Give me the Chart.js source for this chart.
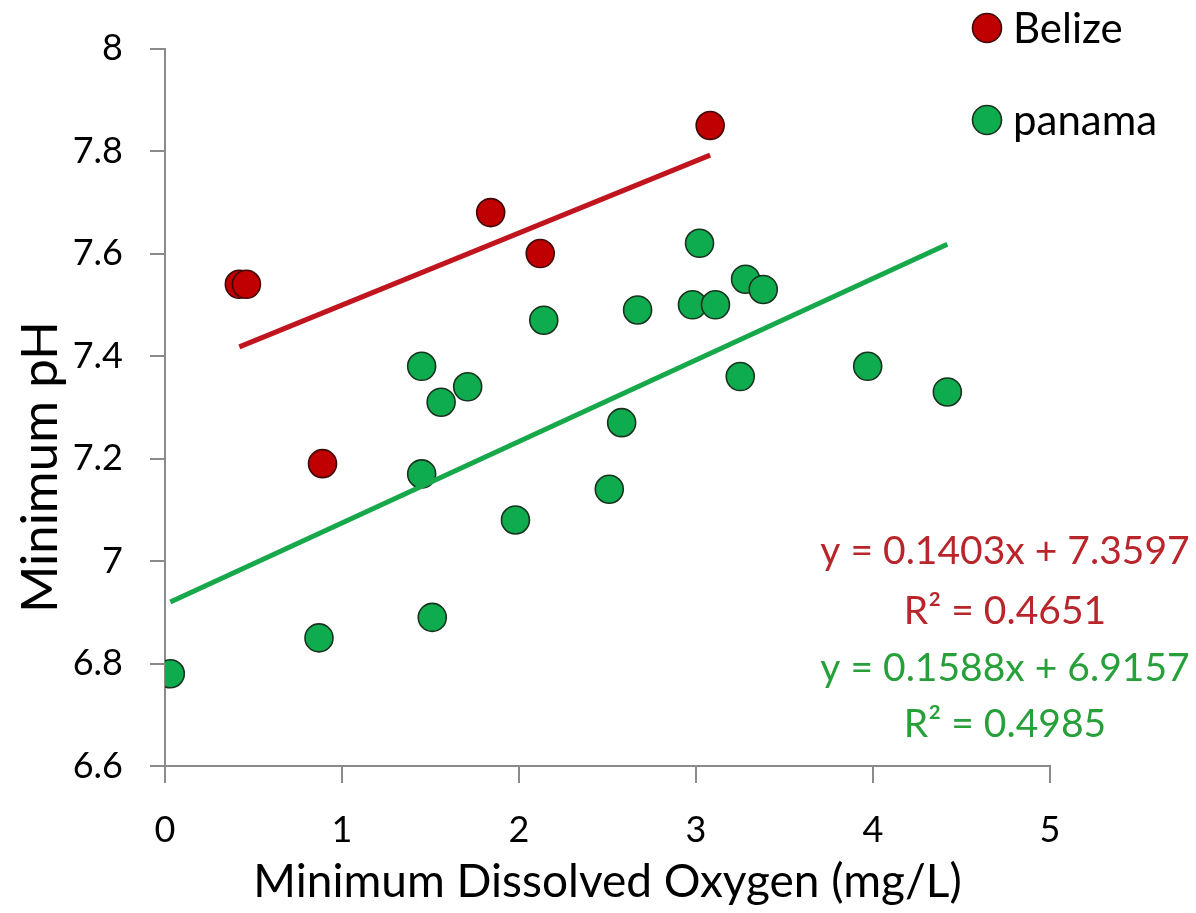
<!DOCTYPE html>
<html>
<head>
<meta charset="utf-8">
<script src="https://cdn.jsdelivr.net/npm/chart.js@4.4.1/dist/chart.umd.min.js"></script>
<style>
    html, body { margin: 0; padding: 0; background: #fff; }
    #wrap { width: 1196px; height: 913px; }
</style>
</head>
<body>
<div id="wrap"><canvas id="phChart" width="1196" height="913"></canvas></div>
<script>
// values
const belizeDO = [0.42, 0.46, 0.89, 1.84, 2.12, 3.08];
const belizePH = [7.54, 7.54, 7.19, 7.68, 7.60, 7.85];

const panamaDO = [0.03, 0.87, 1.51, 1.45, 1.45, 1.56, 1.71, 1.98, 2.14, 2.51, 2.58, 2.67,
                  2.98, 3.02, 3.11, 3.25, 3.28, 3.38, 3.97, 4.42];
const panamaPH = [6.78, 6.85, 6.89, 7.17, 7.38, 7.31, 7.34, 7.08, 7.47, 7.14, 7.27, 7.49,
                  7.50, 7.62, 7.50, 7.36, 7.55, 7.53, 7.38, 7.33];

// trendline end points
const belizeTrendX = [0.42, 3.08];
const belizeTrendY = [7.418, 7.792];
const panamaTrendX = [0.03, 4.42];
const panamaTrendY = [6.920, 7.618];

const equations = [
    { text: "y = 0.1403x + 7.3597", color: "#b8262c" },
    { text: "R\u00b2 = 0.4651", color: "#b8262c" },
    { text: "y = 0.1588x + 6.9157", color: "#27a03a" },
    { text: "R\u00b2 = 0.4985", color: "#27a03a" }
];

const FONT = "Lato, 'Open Sans', sans-serif";
const RED = "#c00000", RED_EDGE = "#3f0808";
const GREEN = "#0fab4f", GREEN_EDGE = "#18331d";

function toPoints(xs, ys) {
    return xs.map((x, i) => ({ x: x, y: ys[i] }));
}

const annotations = {
    id: "annotations",
    afterDraw(chart) {
        const ctx = chart.ctx;
        const area = chart.chartArea;
        ctx.save();

        // axis titles
        ctx.fillStyle = "#000";
        ctx.textAlign = "center";
        ctx.textBaseline = "middle";
        ctx.font = "46px " + FONT;
        ctx.fillText("Minimum Dissolved Oxygen (mg/L)", (area.left + area.right) / 2, 882);

        ctx.save();
        ctx.translate(41, 467);
        ctx.rotate(-Math.PI / 2);
        ctx.font = "51px " + FONT;
        ctx.fillText("Minimum pH", 0, 0);
        ctx.restore();

        // legend
        const items = [
            { label: "Belize", fill: RED, edge: RED_EDGE, y: 28 },
            { label: "panama", fill: GREEN, edge: GREEN_EDGE, y: 120 }
        ];
        ctx.font = "42px " + FONT;
        ctx.textAlign = "left";
        ctx.textBaseline = "middle";
        for (const it of items) {
            ctx.beginPath();
            ctx.arc(987, it.y, 14.5, 0, Math.PI * 2);
            ctx.fillStyle = it.fill;
            ctx.fill();
            ctx.lineWidth = 1.6;
            ctx.strokeStyle = it.edge;
            ctx.stroke();
            ctx.fillStyle = "#000";
            ctx.fillText(it.label, 1013, it.y + 1);
        }

        // trendline equations
        ctx.font = "39px " + FONT;
        ctx.textAlign = "center";
        ctx.textBaseline = "alphabetic";
        const baselines = [564, 624, 681, 737];
        equations.forEach((eq, i) => {
            ctx.fillStyle = eq.color;
            ctx.fillText(eq.text, 1005, baselines[i]);
        });

        ctx.restore();
    }
};

new Chart(document.getElementById("phChart"), {
    type: "scatter",
    data: {
        datasets: [
            {
                type: "line",
                label: "Belize trend",
                data: toPoints(belizeTrendX, belizeTrendY),
                borderColor: "#c0141e",
                borderWidth: 5,
                pointRadius: 0,
                fill: false,
                order: 0
            },
            {
                type: "line",
                label: "panama trend",
                data: toPoints(panamaTrendX, panamaTrendY),
                borderColor: "#16a84b",
                borderWidth: 5,
                pointRadius: 0,
                fill: false,
                order: 0
            },
            {
                label: "Belize",
                data: toPoints(belizeDO, belizePH),
                backgroundColor: RED,
                borderColor: RED_EDGE,
                borderWidth: 1.6,
                pointRadius: 14,
                order: 1
            },
            {
                label: "panama",
                data: toPoints(panamaDO, panamaPH),
                backgroundColor: GREEN,
                borderColor: GREEN_EDGE,
                borderWidth: 1.6,
                pointRadius: 14,
                order: 1
            }
        ]
    },
    options: {
        responsive: false,
        animation: false,
        layout: { padding: { top: 45, right: 146, bottom: 0, left: 0 } },
        plugins: {
            legend: { display: false },
            tooltip: { enabled: false }
        },
        scales: {
            x: {
                type: "linear",
                min: 0,
                max: 5,
                ticks: {
                    stepSize: 1,
                    padding: 26,
                    color: "#000",
                    font: { family: FONT, size: 36 }
                },
                grid: { drawOnChartArea: false, drawTicks: true, tickLength: 17, color: "#8a8a8a", lineWidth: 2 },
                border: { display: true, color: "#8a8a8a", width: 2 },
                afterFit(scale) { scale.height = 147; }
            },
            y: {
                type: "linear",
                min: 6.6,
                max: 8,
                ticks: {
                    stepSize: 0.2,
                    padding: 27,
                    color: "#000",
                    font: { family: FONT, size: 36 },
                    callback: v => String(+v.toFixed(1))
                },
                grid: { drawOnChartArea: false, drawTicks: true, tickLength: 15, color: "#8a8a8a", lineWidth: 2 },
                border: { display: true, color: "#8a8a8a", width: 2 },
                afterFit(scale) { scale.width = 165; }
            }
        }
    },
    plugins: [annotations]
});
</script>
</body>
</html>
